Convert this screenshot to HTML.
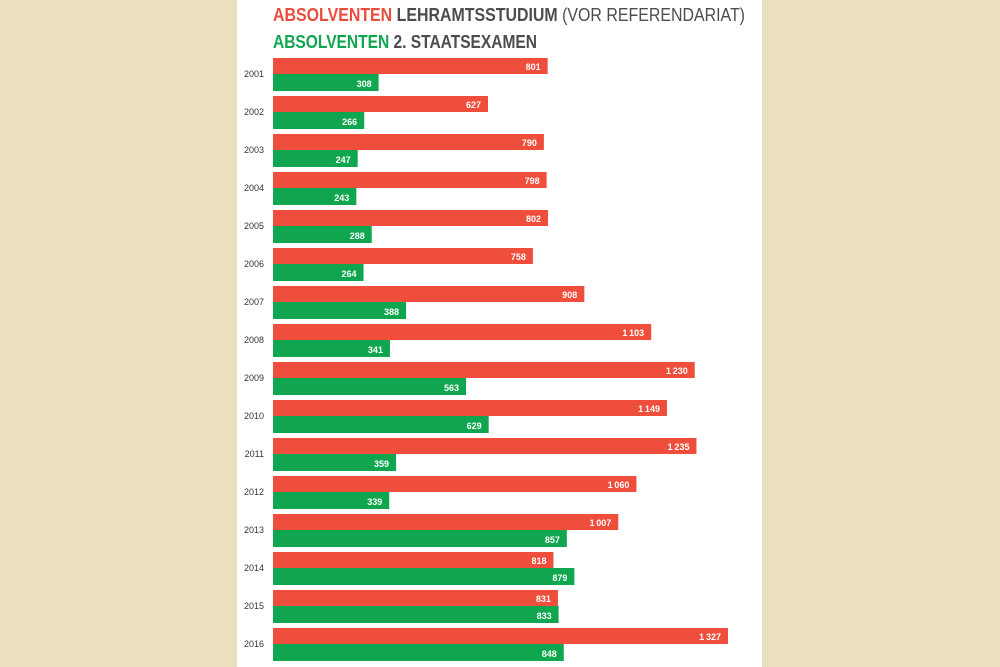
<!DOCTYPE html>
<html><head><meta charset="utf-8"><style>
html,body{margin:0;padding:0;background:#ebe0bd;}
svg{display:block;font-family:"Liberation Sans",sans-serif;}
</style></head><body>
<svg width="1000" height="667" viewBox="0 0 1000 667" xmlns="http://www.w3.org/2000/svg">
<rect x="0" y="0" width="1000" height="667" fill="#ebe0bd"/>
<rect x="237" y="0" width="525" height="667" fill="#ffffff"/>
<text x="273" y="21" font-size="18" font-weight="bold" fill="#e84c3d" textLength="472" lengthAdjust="spacingAndGlyphs">ABSOLVENTEN <tspan fill="#4d4d4f">LEHRAMTSSTUDIUM</tspan> <tspan fill="#4d4d4f" font-weight="normal">(VOR REFERENDARIAT)</tspan></text>
<text x="273" y="48" font-size="18" font-weight="bold" fill="#10a650" textLength="264" lengthAdjust="spacingAndGlyphs">ABSOLVENTEN <tspan fill="#4d4d4f">2. STAATSEXAMEN</tspan></text>
<g id="bars"></g>
</svg>
<script>
var d=[[2001,801,308],[2002,627,266],[2003,790,247],[2004,798,243],[2005,802,288],[2006,758,264],[2007,908,388],[2008,1103,341],[2009,1230,563],[2010,1149,629],[2011,1235,359],[2012,1060,339],[2013,1007,857],[2014,818,879],[2015,831,833],[2016,1327,848]];
var g=document.getElementById('bars'),s='',k=455/1327;
function f(v){return v>=1000?Math.floor(v/1000)+'\u2009'+String(v%1000).padStart(3,'0'):String(v);}
d.forEach(function(r,i){var y=58+38*i;var wr=r[1]*k,wg=r[2]*k;
s+='<rect x="273" y="'+y+'" width="'+wr+'" height="16" fill="#ee4e3b"/>';
s+='<rect x="273" y="'+(y+16)+'" width="'+wg+'" height="17" fill="#0fa64f"/>';
s+='<text x="'+(273+wr-7)+'" y="'+(y+12)+'" font-size="9" font-weight="bold" fill="#fff" text-anchor="end">'+f(r[1])+'</text>';
s+='<text x="'+(273+wg-7)+'" y="'+(y+29)+'" font-size="9" font-weight="bold" fill="#fff" text-anchor="end">'+f(r[2])+'</text>';
s+='<text x="264" y="'+(y+19)+'" font-size="9" fill="#333" text-anchor="end">'+r[0]+'</text>';});
g.innerHTML=s;
</script>
</body></html>
